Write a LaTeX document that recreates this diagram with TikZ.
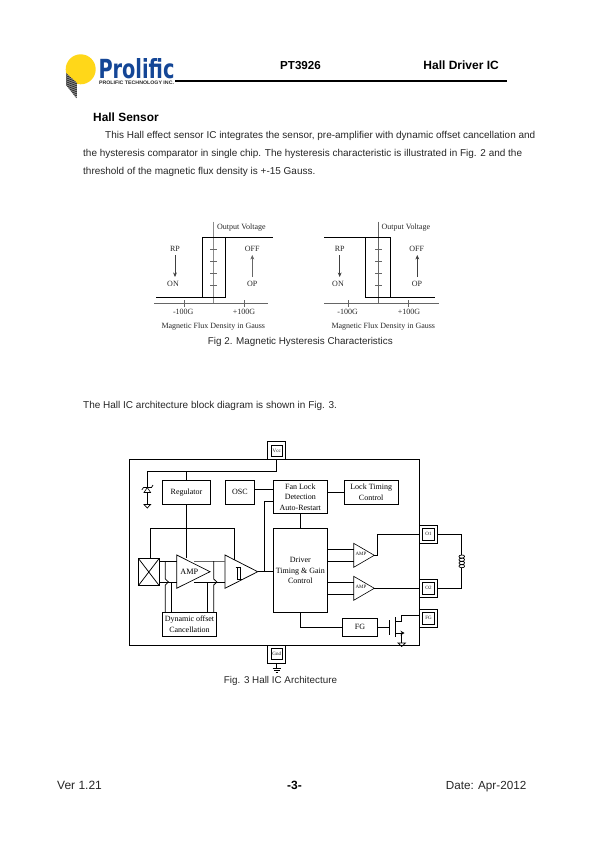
\documentclass[tikz,border=0pt]{standalone}
\usepackage{fontspec}
\usepackage{graphicx}
\usetikzlibrary{arrows.meta}
\setmainfont{Liberation Serif}
\setsansfont{Liberation Sans}
\newfontfamily\logofont{DejaVu Sans}
\definecolor{problue}{RGB}{20,70,150}
\definecolor{proyellow}{RGB}{255,215,25}
\newcommand{\fsz}[1]{\fontsize{#1}{#1}\selectfont}
\tikzset{
  boxn/.style={draw,line width=0.75pt,inner sep=0pt,outer sep=0pt,align=center,font=\rmfamily\fontsize{8}{10.6}\selectfont},
  wire/.style={line width=0.75pt},
  hyst/.style={line width=0.8pt},
  axisl/.style={line width=0.5pt,black!60},
  para/.style={font=\sffamily\fsz{10},inner sep=0pt,anchor=base west,text=black!85},
  flab/.style={font=\rmfamily\fsz{8},inner sep=0pt,text=black!85},
  pinl/.style={font=\rmfamily\fsz{5},inner sep=0pt,text=black!90},
  pinbox/.style={draw,line width=0.75pt,inner sep=0pt,outer sep=0pt,minimum width=18pt,minimum height=18pt},
  pinin/.style={draw,line width=0.75pt,inner sep=0pt,outer sep=0pt,minimum width=12pt,minimum height=12pt,font=\rmfamily\fsz{5},text=black!90},
  tri/.style={line width=0.75pt},
  arrowl/.style={line width=0.5pt,black!75,-{Stealth[length=4.5pt,width=3.8pt]}},
}
\begin{document}
\begin{tikzpicture}[x=1pt,y=-1pt]
\useasboundingbox (0,0) rectangle (595,842);
% logo
\fill[proyellow] (80.7,69.3) circle (15);
\begin{scope}
\clip (66,73) -- (77,83) -- (76.7,98.5) -- (66,85) -- cycle;
\fill[black!45] (60,70) rectangle (80,100);
\foreach \k in {0,2,...,36}{\draw[line width=0.7pt,black!85] (64,70+\k) -- (80,64+\k);}
\end{scope}
\node[inner sep=0pt,outer sep=0pt,anchor=south west,text=problue] (prolific) at (98.5,78.4) {\resizebox{76pt}{20pt}{\logofont\bfseries Prolific}};
\node[inner sep=0pt,outer sep=0pt,anchor=west,text=black!85] (protech) at (99,83) {\resizebox{75pt}{3.5pt}{\sffamily\bfseries PROLIFIC TECHNOLOGY INC.}};
% header
\node[font=\sffamily\bfseries\fsz{11.6},inner sep=0pt] (htitle) at (300.5,65.5) {PT3926};
\node[font=\sffamily\bfseries\fsz{12},inner sep=0pt,anchor=east] (hright) at (499,65.5) {Hall Driver IC};
\coordinate (hl) at (175,81); \coordinate (hr) at (507,81);
\draw[line width=1.6pt] (hl) -- (hr);
% text
\node[font=\sffamily\bfseries\fsz{11.9},inner sep=0pt,anchor=base west] (hsens) at (93,121.3) {Hall Sensor};
\node[para,font=\sffamily\fsz{9.98}] (p1) at (105,138.4) {This Hall effect sensor IC integrates the sensor, pre-amplifier with dynamic offset cancellation and};
\node[para,font=\sffamily\fsz{9.98}] (p2) at (83,156.4) {the hysteresis comparator in single chip. The hysteresis characteristic is illustrated in Fig. 2 and the};
\node[para,font=\sffamily\fsz{9.98}] (p3) at (83,174.4) {threshold of the magnetic flux density is +-15 Gauss.};
\node[para] (p4) at (83,408) {The Hall IC architecture block diagram is shown in Fig. 3.};
\node[font=\sffamily\fsz{9.85},inner sep=0pt,text=black!85] (cap2) at (300.3,342.3) {Fig 2. Magnetic Hysteresis Characteristics};
\node[font=\sffamily\fsz{9.85},inner sep=0pt,text=black!85] (cap3) at (280.5,681.3) {Fig. 3 Hall IC Architecture};
\node[font=\sffamily\fsz{12},inner sep=0pt,anchor=base west,text=black!85] (fl) at (57,789) {Ver 1.21};
\node[font=\sffamily\bfseries\fsz{12},inner sep=0pt,anchor=base] (fc) at (294.5,789) {-3-};
\node[font=\sffamily\fsz{11.7},inner sep=0pt,anchor=base east,text=black!85] (fr) at (526.5,789) {Date: Apr-2012};
% left hysteresis
\coordinate (la) at (213.3,221.7); \coordinate (lb) at (213.3,303.3);
\draw[line width=0.9pt,black!45] (la) -- (lb);
\coordinate (lx1) at (154,303.3); \coordinate (lx2) at (268.3,303.3);
\draw[axisl] (lx1) -- (lx2);
\foreach \y in {249.3,261.7,273.7,285.7}{\draw[axisl] (210,\y) -- (217.3,\y);}
\foreach \x in {184,244}{\draw[axisl] (\x,300) -- (\x,306.5);}
\coordinate (h1) at (156,297.3); \coordinate (h2) at (225.7,297.3); \coordinate (h3) at (225.7,237.7);
\coordinate (h4) at (202.3,297.3); \coordinate (h5) at (202.3,237.7); \coordinate (h6) at (273.3,237.7);
\draw[hyst] (h1) -- (h2) -- (h3) -- (h5) -- (h4);
\draw[hyst] (h3) -- (h6);
\node[flab,anchor=west] (lov) at (217,228) {Output Voltage};
\node[flab] (lrp) at (175,248.7) {RP};
\node[flab] (lon) at (173,284.3) {ON};
\node[flab] (loff) at (252.3,248.7) {OFF};
\node[flab] (lop) at (252.3,284.3) {OP};
\node[flab] (lm) at (183.3,311.5) {-100G};
\node[flab] (lp) at (244,311.5) {+100G};
\node[flab] (lmag) at (213.3,326.5) {Magnetic Flux Density in Gauss};
\draw[arrowl] (175,255) -- (175,277);
\draw[arrowl,black!60] (252.3,277) -- (252.3,255);
% right hysteresis
\coordinate (ra) at (378.3,221.7); \coordinate (rb) at (378.3,303.3);
\draw[line width=0.5pt,black!60] (ra) -- (rb);
\coordinate (rx1) at (324,303.3); \coordinate (rx2) at (439.3,303.3);
\draw[axisl] (rx1) -- (rx2);
\foreach \y in {249.3,261.7,273.7,285.7}{\draw[axisl] (375,\y) -- (382,\y);}
\foreach \x in {348.3,408.3}{\draw[axisl] (\x,300) -- (\x,306.5);}
\coordinate (k1) at (324,237.7); \coordinate (k2) at (390.7,237.7); \coordinate (k3) at (390.7,297.3);
\coordinate (k4) at (365.3,237.7); \coordinate (k5) at (365.3,297.3); \coordinate (k6) at (435,297.3);
\draw[hyst] (k1) -- (k2) -- (k3);
\draw[hyst] (k4) -- (k5) -- (k6);
\node[flab,anchor=west] (rov) at (381.5,228) {Output Voltage};
\node[flab] (rrp) at (339.7,248.7) {RP};
\node[flab] (ron) at (338,284.3) {ON};
\node[flab] (roff) at (416.7,248.7) {OFF};
\node[flab] (rop) at (417,284.3) {OP};
\node[flab] (rm) at (347.7,311.5) {-100G};
\node[flab] (rp) at (409,311.5) {+100G};
\node[flab] (rmag) at (383.3,326.5) {Magnetic Flux Density in Gauss};
\draw[arrowl] (339.7,255) -- (339.7,277);
\draw[arrowl] (417.3,277) -- (417.3,255);
% block diagram outer
\node[draw,line width=0.75pt,inner sep=0,outer sep=0,minimum width=289.8pt,minimum height=185.5pt] (chip) at (274.4,552.25) {};
\node[pinbox] (vccO) at (276.7,450.5) {};
\node[pinin,minimum width=11pt,minimum height=11pt] (vcc) at (276.7,450.5) {Vcc};
\node[pinbox] (gndO) at (276.7,654) {};
\node[pinin,minimum width=11pt,minimum height=11pt] (gnd) at (276.7,654) {Gnd};
\node[pinbox] (o1O) at (428.5,534.3) {};
\node[pinin] (o1) at (428.5,534.3) {O1};
\node[pinbox] (o2O) at (428.5,588.3) {};
\node[pinin] (o2) at (428.5,588.3) {O2};
\node[pinbox] (fgO) at (428.5,618.3) {};
\node[pinin] (fgp) at (428.5,618.3) {FG};
\node[boxn,minimum width=48.4pt,minimum height=23.4pt] (reg) at (186.5,492.3) {Regulator};
\node[boxn,minimum width=28.6pt,minimum height=23.4pt] (osc) at (240,492.3) {OSC};
\node[boxn,minimum width=54pt,minimum height=32.6pt] (fan) at (300.3,497) {Fan Lock\\Detection\\Auto-Restart};
\node[boxn,minimum width=54.3pt,minimum height=23.4pt] (lock) at (371.2,492.3) {Lock Timing\\Control};
\node[boxn,minimum width=54pt,minimum height=84.4pt] (drv) at (300.3,570.5) {Driver\\Timing \& Gain\\Control};
\node[boxn,minimum width=54.4pt,minimum height=23.7pt] (dyn) at (189.5,624.2) {Dynamic offset\\Cancellation};
\node[boxn,minimum width=35.4pt,minimum height=18pt] (fg) at (360,627.3) {FG};
\node[boxn,minimum width=21pt,minimum height=27.4pt] (hall) at (148.8,572) {};
\draw[line width=0.75pt] (hall.north west) -- (hall.south east) (hall.north east) -- (hall.south west);
% triangles
\coordinate (a1) at (176.7,555); \coordinate (a2) at (176.7,588.3); \coordinate (at) at (210,571.7);
\draw[tri] (a1) -- (a2) -- (at) -- cycle;
\node[font=\rmfamily\fsz{8.2},inner sep=0pt] (amp) at (189.3,571.7) {AMP};
\coordinate (c1) at (225,555); \coordinate (c2) at (225,588.3); \coordinate (ct) at (257.7,571.7);
\draw[tri] (c1) -- (c2) -- (ct) -- cycle;
\draw[line width=0.6pt] (235.5,567.7) -- (240,567.7) -- (240,579.3) (237,567.7) -- (237,579.3) -- (241.5,579.3);
\coordinate (u1) at (353.7,543.3); \coordinate (u2) at (353.7,567.3); \coordinate (ut) at (374.3,555.3);
\draw[line width=0.6pt] (u1) -- (u2) -- (ut) -- cycle;
\node[pinl] (ampu) at (361,553.5) {AMP};
\coordinate (d1) at (353.7,576.3); \coordinate (d2) at (353.7,600.3); \coordinate (dt) at (374.3,588.3);
\draw[line width=0.6pt] (d1) -- (d2) -- (dt) -- cycle;
\node[pinl] (ampd) at (361,586.5) {AMP};
% power
\coordinate (vtap) at (276.7,471.7);
\draw[wire] (276.7,459.5) -- (vtap) -- (147.3,471.7) -- (147.3,487.5);
\coordinate (rtap) at (186.5,471.7);
\draw[wire] (rtap) -- (reg.north);
\coordinate (rj) at (186.5,528.3);
\draw[wire] (reg.south) -- (rj);
\draw[wire] (150.7,558.3) -- (150.7,528.3) -- (234.7,528.3) -- (234.7,559.8);
\draw[wire] (rj) -- (186.5,558);
% zener
\draw[line width=0.7pt] (141.8,490) -- (143.5,487.5) -- (151.5,487.5) -- (153,485);
\draw[line width=0.6pt] (147.3,487.5) -- (144,492.5) -- (150.6,492.5) -- cycle;
\draw[wire] (147.3,492.5) -- (147.3,504.5);
\draw[line width=0.7pt] (144,504.5) -- (150.6,504.5) -- (147.3,508) -- cycle;
% osc, lock
\draw[wire] (254.3,489.3) -- (273.3,489.3);
\draw[wire] (327.3,492.3) -- (344,492.3);
\draw[wire] (fan.south) -- (drv.north);
% comparator out
\coordinate (cj) at (264,571.7);
\draw[wire] (ct) -- (273.3,571.7);
\draw[wire] (cj) -- (264,501.3) -- (273.3,501.3);
% signal lines
\draw[wire] (159.3,561.7) -- (176.7,561.7);
\draw[wire] (159.3,582) -- (176.7,582);
\draw[wire,black!60] (194,561) -- (225,561);
\draw[wire] (194,582) -- (225,582);
\draw[wire] (165.3,612.3) -- (165.3,585) -- (168.5,582) -- (165.3,579) -- (165.3,561.7);
\draw[wire] (171.3,612.3) -- (171.3,582);
\draw[wire] (207.7,612.3) -- (207.7,582);
\draw[wire] (213.7,612.3) -- (213.7,585) -- (216.9,582) -- (213.7,579) -- (213.7,561);
% driver to amps
\draw[wire] (327.3,549.3) -- (353.7,549.3);
\draw[wire] (327.3,561.3) -- (353.7,561.3);
\draw[wire] (327.3,582.3) -- (353.7,582.3);
\draw[wire] (327.3,594.3) -- (353.7,594.3);
\draw[wire] (ut) -- (377.3,555.3) -- (377.3,534.3) -- (o1O.west);
\draw[wire] (dt) -- (o2O.west);
% coil
\coordinate (cb) at (461.7,555); \coordinate (ce) at (461.7,567.7);
\draw[wire] (o1O.east) -- (461.7,534.3) -- (cb);
\draw[wire] (ce) -- (461.7,588.3) -- (o2O.east);
\draw[line width=0.7pt] (cb) .. controls (465.5,554.5) and (465.5,558.2) .. (461.7,558.2)
  .. controls (465.5,557.7) and (465.5,561.4) .. (461.7,561.4)
  .. controls (465.5,560.9) and (465.5,564.6) .. (461.7,564.6)
  .. controls (465.5,564.1) and (465.5,568.2) .. (ce);
\draw[line width=0.7pt] (cb) .. controls (458,555.2) and (458,558) .. (461.7,558.2)
  (461.7,558.2) .. controls (458,558.4) and (458,561.2) .. (461.7,561.4)
  (461.7,561.4) .. controls (458,561.6) and (458,564.4) .. (461.7,564.6)
  (461.7,564.6) .. controls (458,564.8) and (458,567.5) .. (ce);
% FG path and MOSFET
\draw[wire] (300.3,612.7) -- (300.3,627.3) -- (fg.west);
\coordinate (gate) at (389.3,627.3);
\draw[wire] (fg.east) -- (gate);
\draw[wire] (389.3,620) -- (389.3,635);
\draw[wire] (395,617.3) -- (395,637.3);
\draw[wire] (395,621.7) -- (401.7,621.7) -- (401.7,615) -- (419.5,615);
\draw[wire] (395,633) -- (401.7,633) -- (401.7,643);
\draw[wire,-{Stealth[length=4pt,width=4.5pt]}] (395,633) -- (404.5,633);
\draw[line width=0.7pt] (398,643) -- (405.4,643) -- (401.7,646.5) -- cycle;
% gnd
\coordinate (gs) at (276.7,668);
\draw[wire] (gndO.south) -- (gs);
\draw[line width=0.7pt] (272.5,668) -- (281,668) (274,670) -- (279.5,670) (275.5,672) -- (278,672);
\end{tikzpicture}
\end{document}
